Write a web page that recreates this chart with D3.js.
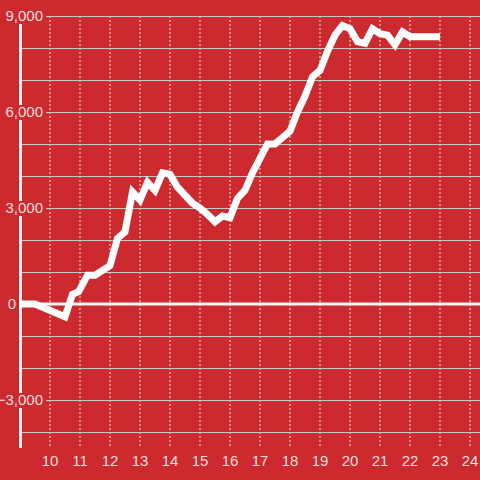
<!DOCTYPE html>
<html>
<head>
<meta charset="utf-8">
<script src="https://cdn.jsdelivr.net/npm/d3@7"></script>
<style>
  html, body { margin: 0; padding: 0; background: #cc2a2f; }
  svg { display: block; }
  text { font-family: "Liberation Sans", Arial, sans-serif; }
</style>
</head>
<body>
<svg id="chart" width="480" height="480"></svg>
<script>
// hour of day / running value
const hours = [9, 9.5, 10.5, 10.75, 10.95, 11.25, 11.5, 12, 12.25, 12.5, 12.75, 13, 13.25, 13.5, 13.75, 14,
  14.25, 14.75, 15, 15.25, 15.5, 15.75, 16, 16.25, 16.5, 16.75, 17, 17.25, 17.5, 18, 18.25, 18.5, 18.75, 19,
  19.25, 19.5, 19.75, 20, 20.25, 20.5, 20.75, 21, 21.25, 21.5, 21.75, 22, 23];
const values = [0, 0, -400, 300, 380, 900, 900, 1200, 2050, 2250, 3500, 3250, 3800, 3550, 4100, 4050,
  3650, 3150, 3000, 2800, 2570, 2750, 2700, 3300, 3550, 4100, 4550, 5000, 5000, 5400, 6000, 6500, 7100, 7300,
  7900, 8400, 8700, 8600, 8200, 8150, 8600, 8450, 8400, 8100, 8500, 8350, 8350];
const xTicks = [10, 11, 12, 13, 14, 15, 16, 17, 18, 19, 20, 21, 22, 23, 24];
const yGrid = d3.range(-4000, 9001, 1000);
const yLabels = [-3000, 0, 3000, 6000, 9000];

const bg = '#cc2a2f';
const svg = d3.select('#chart');

const x = d3.scaleLinear().domain([9, 24]).range([20, 470]);
const y = d3.scaleLinear().domain([-4000, 9000]).range([432, 16]);

// vertical dashed grid
svg.append('g').selectAll('line')
  .data(xTicks)
  .join('line')
  .attr('x1', d => x(d)).attr('x2', d => x(d))
  .attr('y1', 16).attr('y2', 448)
  .attr('stroke', '#e8e8e8')
  .attr('stroke-width', 1)
  .attr('stroke-dasharray', '2,2');

// horizontal grid
svg.append('g').selectAll('line')
  .data(yGrid.filter(d => d !== 0))
  .join('line')
  .attr('x1', 20).attr('x2', 480)
  .attr('y1', d => y(d) + 0.5).attr('y2', d => y(d) + 0.5)
  .attr('stroke', '#c8c8c8')
  .attr('stroke-width', 1);

// y axis line
svg.append('line')
  .attr('x1', 20.5).attr('x2', 20.5)
  .attr('y1', 10).attr('y2', 448)
  .attr('stroke', '#f0f0f0')
  .attr('stroke-width', 3);

// y labels; non-zero ones sit on a background box over the axis
const fmt = d3.format(',');
const yl = svg.append('g').selectAll('g')
  .data(yLabels)
  .join('g')
  .attr('transform', d => `translate(0,${y(d)})`);
yl.each(function(d) {
  const g = d3.select(this);
  const t = g.append('text')
    .attr('x', d === 0 ? 16 : 43)
    .attr('dy', '0.36em')
    .attr('text-anchor', 'end')
    .attr('font-size', 15)
    .attr('fill', '#f3dede')
    .text(fmt(d));
  if (d !== 0) {
    const bb = t.node().getBBox();
    g.insert('rect', 'text')
      .attr('x', bb.x - 1).attr('y', -7)
      .attr('width', 46 - bb.x + 1).attr('height', 15)
      .attr('fill', bg);
  }
});

// zero line
svg.append('line')
  .attr('x1', 20).attr('x2', 480)
  .attr('y1', y(0)).attr('y2', y(0))
  .attr('stroke', '#f4f4f4')
  .attr('stroke-width', 3);

// data line
const line = d3.line()
  .x((d, i) => x(hours[i]))
  .y(d => y(d));

svg.append('path')
  .datum(values)
  .attr('d', line)
  .attr('fill', 'none')
  .attr('stroke', '#ffffff')
  .attr('stroke-width', 7)
  .attr('stroke-linejoin', 'miter')
  .attr('stroke-linecap', 'butt');

// x labels
svg.append('g').selectAll('text')
  .data(xTicks)
  .join('text')
  .attr('x', d => x(d))
  .attr('y', 466)
  .attr('text-anchor', 'middle')
  .attr('font-size', 15)
  .attr('fill', '#f3dede')
  .text(d => d);
</script>
</body>
</html>
